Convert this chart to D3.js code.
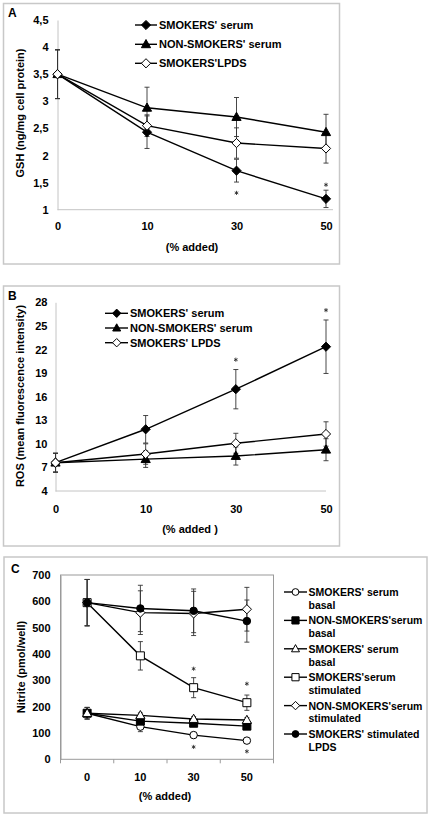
<!DOCTYPE html>
<html><head><meta charset="utf-8">
<script src="https://cdn.jsdelivr.net/npm/d3@7"></script>
<style>
body{margin:0;background:#fff}
text{font-family:"Liberation Sans",Arial,Helvetica,sans-serif;font-weight:bold;fill:#000}
</style>
</head><body>
<svg id="chart" width="430" height="817"></svg>
<script>
// ---------- shared categories ----------
const categories = ["0","10","30","50"];

// ---------- Panel A (GSH) ----------
const aTickValues = [1,1.5,2,2.5,3,3.5,4,4.5];
const aTickLabels = ["1","1,5","2","2,5","3","3,5","4","4,5"];
const aSeriesNames = ["SMOKERS' serum","NON-SMOKERS' serum","SMOKERS'LPDS"];
const aSmokers = [3.5,2.43,1.72,1.20];
const aSmokersErr = [0.45,0.30,0.21,0.16];
const aNonSmokers = [3.5,2.88,2.71,2.43];
const aNonSmokersErr = [0.45,0.38,0.36,0.33];
const aLPDS = [3.5,2.55,2.23,2.13];
const aLPDSErr = [0.45,0.20,0.28,0.27];
const aStars = [null,null,1.31,1.46];

// ---------- Panel B (ROS) ----------
const bTickValues = [4,7,10,13,16,19,22,25,28];
const bSeriesNames = ["SMOKERS' serum","NON-SMOKERS' serum","SMOKERS' LPDS"];
const bSmokers = [7.6,11.85,16.95,22.35];
const bSmokersErr = [1.2,1.75,2.5,3.4];
const bNonSmokers = [7.6,8.05,8.45,9.25];
const bNonSmokersErr = [1.2,1.05,1.15,1.4];
const bLPDS = [7.6,8.7,10.07,11.25];
const bLPDSErr = [1.2,1.3,1.27,1.55];
const bStars = [null,null,20.7,27.0];

// ---------- Panel C (Nitrite) ----------
const cTickValues = [0,100,200,300,400,500,600,700];
const cSeriesNames = [
  ["SMOKERS' serum","basal"],
  ["NON-SMOKERS'serum","basal"],
  ["SMOKERS' serum","basal"],
  ["SMOKERS'serum","stimulated"],
  ["NON-SMOKERS'serum","stimulated"],
  ["SMOKERS' stimulated","LPDS"]
];
const cSmokBasal = [175,124,92,71];
const cSmokBasalErr = [22,19,10,7];
const cNonSmokBasal = [175,145,137,126];
const cNonSmokBasalErr = [22,14,12,11];
const cSmokBasal2 = [175,167,153,149];
const cSmokBasal2Err = [22,9,9,9];
const cSmokStim = [595,393,272,215];
const cSmokStimErr = [88,54,38,29];
const cNonSmokStim = [595,557,554,570];
const cNonSmokStimErr = [88,83,84,83];
const cLPDSStim = [595,573,564,525];
const cLPDSStimErr = [88,88,83,80];
const cStarsStim = [null,null,344,287];
const cStarsBasal = [null,null,47,30];

// ---------- helpers ----------
const svg = d3.select("#chart");
const AX = "#c4c4c4";
const AXC = "#9a9a9a";

function markerPath(shape){
  switch(shape){
    case "diamond": return "M0,-4.6L4.6,0L0,4.6L-4.6,0Z";
    case "diamondS": return "M0,-4.2L4.2,0L0,4.2L-4.2,0Z";
    case "triangle": return "M0,-4.8L4.6,3.4L-4.6,3.4Z";
    case "triangleS": return "M0,-4.2L4.0,3.0L-4.0,3.0Z";
    case "square": return "M-4,-4H4V4H-4Z";
    case "squareS": return "M-3.6,-3.6H3.6V3.6H-3.6Z";
    case "circle": return d3.symbol(d3.symbolCircle, 44)();
    case "circleS": return d3.symbol(d3.symbolCircle, 36)();
  }
}

function drawErrors(g, x, y, vals, errs){
  const pts = vals.map((v,i)=>({c:categories[i], v, e:errs[i]}));
  const eb = g.append("g").attr("stroke","#333").attr("stroke-width",0.9);
  pts.forEach(p=>{
    const cx = x(p.c);
    eb.append("line").attr("x1",cx).attr("x2",cx).attr("y1",y(p.v+p.e)).attr("y2",y(p.v-p.e));
    [p.v+p.e,p.v-p.e].forEach(t=>{
      eb.append("line").attr("x1",cx-2.5).attr("x2",cx+2.5).attr("y1",y(t)).attr("y2",y(t));
    });
  });
  return pts;
}
function drawLineMarkers(g, x, y, pts, shape, filled){
  g.append("path").datum(pts)
    .attr("fill","none").attr("stroke","#000").attr("stroke-width",1.4)
    .attr("d", d3.line().x(d=>x(d.c)).y(d=>y(d.v)));
  g.selectAll(null).data(pts).enter().append("path")
    .attr("transform",d=>`translate(${x(d.c)},${y(d.v)})`)
    .attr("d", markerPath(shape))
    .attr("fill", filled?"#000":"#fff")
    .attr("stroke","#000").attr("stroke-width",1);
}
const starPath = d3.symbol(d3.symbolAsterisk, 12)();
function drawStars(g, x, y, stars){
  stars.forEach((s,i)=>{
    if(s==null) return;
    g.append("path").attr("transform",`translate(${x(categories[i])},${y(s)})`)
      .attr("d",starPath).attr("fill","none").attr("stroke","#222").attr("stroke-width",0.8);
  });
}
function legendRow(g, x1, x2, xm, xt, yy, shape, filled, label, fs){
  g.append("line").attr("x1",x1).attr("x2",x2).attr("y1",yy).attr("y2",yy).attr("stroke","#000").attr("stroke-width",1.4);
  g.append("path").attr("transform",`translate(${xm},${yy})`).attr("d",markerPath(shape))
    .attr("fill",filled?"#000":"#fff").attr("stroke","#000").attr("stroke-width",1);
  g.append("text").attr("x",xt).attr("y",yy+4).style("font-size",fs+"px").text(label);
}
function frame(x,y,w,h){
  svg.append("rect").attr("x",x).attr("y",y).attr("width",w).attr("height",h)
    .attr("fill","none").attr("stroke","#c8c8c8").attr("stroke-width",1.5);
}

// ================= Panel A =================
(function(){
  frame(3.5,3.5,336,260.5);
  const g = svg.append("g");
  const x = d3.scalePoint().domain(categories).range([57.5,326]);
  const y = d3.scaleLinear().domain([1,4.5]).range([209.7,20]);
  const yAxis = d3.axisLeft(y).tickValues(aTickValues).tickFormat((d,i)=>aTickLabels[i]).tickSize(0).tickSizeOuter(0);
  const ya = g.append("g").attr("transform","translate(57.5,0)").call(yAxis);
  ya.select(".domain").attr("stroke",AX);
  ya.selectAll(".tick line").remove();
  ya.selectAll(".tick text").attr("x",-9).style("font-size","11px").style("font-family",null);
  g.append("line").attr("x1",57.5).attr("x2",333).attr("y1",y(1)).attr("y2",y(1)).attr("stroke",AX).attr("stroke-width",1);
  const xa = g.append("g").attr("transform",`translate(0,${y(1)})`).call(d3.axisBottom(x).tickSize(0));
  xa.select(".domain").remove();
  xa.selectAll(".tick text").attr("y",13).style("font-size","11px").style("font-family",null);
  g.append("text").attr("x",192).attr("y",250.5).attr("text-anchor","middle").style("font-size","11px").text("(% added)");
  g.append("text").attr("transform","translate(24,113) rotate(-90)").attr("text-anchor","middle").style("font-size","11px").text("GSH (ng/mg cell protein)");
  g.append("text").attr("x",8).attr("y",17).style("font-size","12px").text("A");

  const s1 = drawErrors(g,x,y,aSmokers,aSmokersErr);
  const s2 = drawErrors(g,x,y,aNonSmokers,aNonSmokersErr);
  const s3 = drawErrors(g,x,y,aLPDS,aLPDSErr);
  drawLineMarkers(g,x,y,s1,"diamond",true);
  drawLineMarkers(g,x,y,s2,"triangle",true);
  drawLineMarkers(g,x,y,s3,"diamond",false);
  drawStars(g,x,y,aStars);

  const lg = svg.append("g");
  const rows = [25,44.3,63.3];
  legendRow(lg,135,157,146,159,rows[0],"diamond",true,aSeriesNames[0],11);
  legendRow(lg,135,157,146,159,rows[1],"triangle",true,aSeriesNames[1],11);
  legendRow(lg,135,157,146,159,rows[2],"diamond",false,aSeriesNames[2],11);
})();

// ================= Panel B =================
(function(){
  frame(3.5,286,336,260);
  const g = svg.append("g");
  const x = d3.scalePoint().domain(categories).range([55.5,326]);
  const y = d3.scaleLinear().domain([4,28]).range([491,302.3]);
  const yAxis = d3.axisLeft(y).tickValues(bTickValues).tickSize(0).tickSizeOuter(0);
  const ya = g.append("g").attr("transform","translate(55.5,0)").call(yAxis);
  ya.select(".domain").attr("stroke",AX);
  ya.selectAll(".tick line").remove();
  ya.selectAll(".tick text").attr("x",-8).style("font-size","11px").style("font-family",null);
  g.append("line").attr("x1",55.5).attr("x2",326).attr("y1",y(4)).attr("y2",y(4)).attr("stroke",AX);
  const xa = g.append("g").attr("transform",`translate(0,${y(4)})`).call(d3.axisBottom(x).tickSize(0));
  xa.select(".domain").remove();
  xa.selectAll(".tick text").attr("y",14).style("font-size","11px").style("font-family",null);
  g.append("text").attr("x",190).attr("y",533).attr("text-anchor","middle").style("font-size","11px").text("(% added )");
  g.append("text").attr("transform","translate(24,396) rotate(-90)").attr("text-anchor","middle").style("font-size","11px").text("ROS (mean fluorescence intensity)");
  g.append("text").attr("x",8).attr("y",300).style("font-size","12px").text("B");

  const s1 = drawErrors(g,x,y,bSmokers,bSmokersErr);
  const s2 = drawErrors(g,x,y,bNonSmokers,bNonSmokersErr);
  const s3 = drawErrors(g,x,y,bLPDS,bLPDSErr);
  drawLineMarkers(g,x,y,s1,"diamond",true);
  drawLineMarkers(g,x,y,s2,"triangle",true);
  drawLineMarkers(g,x,y,s3,"diamond",false);
  drawStars(g,x,y,bStars);

  const lg = svg.append("g");
  const rows = [313.3,328,342.7];
  legendRow(lg,105,128,116.7,130,rows[0],"diamondS",true,bSeriesNames[0],11);
  legendRow(lg,105,128,116.7,130,rows[1],"triangleS",true,bSeriesNames[1],11);
  legendRow(lg,105,128,116.7,130,rows[2],"diamondS",false,bSeriesNames[2],11);
})();

// ================= Panel C =================
(function(){
  frame(4,557,423,256);
  const g = svg.append("g");
  const x0 = d3.scaleBand().domain(categories).range([60.5,273.5]);
  const x = c => x0(c) + x0.bandwidth()/2;
  const y = d3.scaleLinear().domain([0,700]).range([759.3,575]);
  g.append("rect").attr("x",60.5).attr("y",y(700)).attr("width",213).attr("height",y(0)-y(700))
    .attr("fill","none").attr("stroke",AXC).attr("stroke-width",1);
  const yAxis = d3.axisLeft(y).tickValues(cTickValues).tickSize(0).tickSizeOuter(0);
  const ya = g.append("g").attr("transform","translate(60.5,0)").call(yAxis);
  ya.select(".domain").attr("stroke",AXC);
  ya.selectAll(".tick line").remove();
  ya.selectAll(".tick text").attr("x",-10).style("font-size","11px").style("font-family",null);
  const bounds = categories.map(c=>x0(c)).concat([x0.range()[1]]);
  bounds.forEach(b=>g.append("line").attr("x1",b).attr("x2",b).attr("y1",y(0)).attr("y2",y(0)+4).attr("stroke",AXC));
  categories.forEach(c=>g.append("text").attr("x",x(c)).attr("y",780.5).attr("text-anchor","middle").style("font-size","11px").text(c));
  g.append("text").attr("x",165).attr("y",799.5).attr("text-anchor","middle").style("font-size","11px").text("(% added)");
  g.append("text").attr("transform","translate(25,667) rotate(-90)").attr("text-anchor","middle").style("font-size","11px").text("Nitrite (pmol/well)");
  g.append("text").attr("x",11).attr("y",573).style("font-size","12px").text("C");

  const s1 = drawErrors(g,x,y,cSmokBasal,cSmokBasalErr);
  const s2 = drawErrors(g,x,y,cNonSmokBasal,cNonSmokBasalErr);
  const s3 = drawErrors(g,x,y,cSmokBasal2,cSmokBasal2Err);
  const s4 = drawErrors(g,x,y,cSmokStim,cSmokStimErr);
  const s5 = drawErrors(g,x,y,cNonSmokStim,cNonSmokStimErr);
  const s6 = drawErrors(g,x,y,cLPDSStim,cLPDSStimErr);
  drawLineMarkers(g,x,y,s1,"circle",false);
  drawLineMarkers(g,x,y,s2,"square",true);
  drawLineMarkers(g,x,y,s3,"triangle",false);
  drawLineMarkers(g,x,y,s4,"square",false);
  drawLineMarkers(g,x,y,s5,"diamond",false);
  drawLineMarkers(g,x,y,s6,"circle",true);
  drawStars(g,x,y,cStarsStim);
  drawStars(g,x,y,cStarsBasal);

  const lg = svg.append("g");
  const shapes = [["circleS",false],["squareS",true],["triangleS",false],["squareS",false],["diamondS",false],["circleS",true]];
  cSeriesNames.forEach((nm,i)=>{
    const yy = 592 + i*28.4;
    legendRow(lg,284,307,295.5,308.5,yy,shapes[i][0],shapes[i][1],nm[0],10.5);
    lg.append("text").attr("x",308.5).attr("y",yy+4+12.8).style("font-size","10.5px").text(nm[1]);
  });
})();
</script>
</body></html>
